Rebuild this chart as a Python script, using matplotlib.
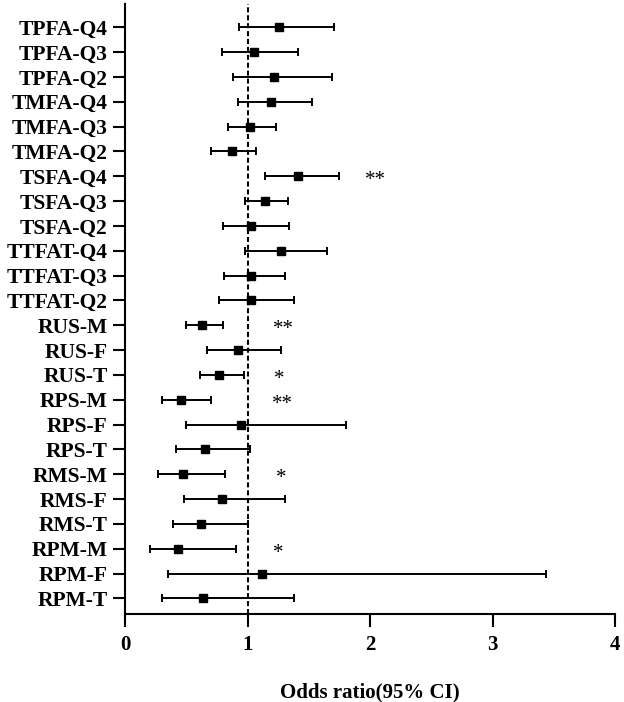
import matplotlib
matplotlib.use("Agg")
import matplotlib.pyplot as plt
import numpy as np

labels = ["TPFA-Q4", "TPFA-Q3", "TPFA-Q2", "TMFA-Q4", "TMFA-Q3", "TMFA-Q2",
          "TSFA-Q4", "TSFA-Q3", "TSFA-Q2", "TTFAT-Q4", "TTFAT-Q3", "TTFAT-Q2",
          "RUS-M", "RUS-F", "RUS-T", "RPS-M", "RPS-F", "RPS-T",
          "RMS-M", "RMS-F", "RMS-T", "RPM-M", "RPM-F", "RPM-T"]
odds = [1.26, 1.05, 1.22, 1.19, 1.02, 0.87,
        1.41, 1.14, 1.03, 1.27, 1.03, 1.03,
        0.63, 0.92, 0.77, 0.46, 0.95, 0.65,
        0.47, 0.79, 0.62, 0.43, 1.12, 0.64]
lower = [0.93, 0.79, 0.88, 0.92, 0.84, 0.70,
         1.14, 0.98, 0.80, 0.98, 0.81, 0.77,
         0.50, 0.67, 0.61, 0.30, 0.50, 0.42,
         0.27, 0.48, 0.39, 0.20, 0.35, 0.30]
upper = [1.71, 1.41, 1.69, 1.53, 1.23, 1.07,
         1.75, 1.33, 1.34, 1.65, 1.31, 1.38,
         0.80, 1.27, 0.97, 0.70, 1.80, 1.02,
         0.82, 1.31, 1.00, 0.91, 3.44, 1.38]
signif = {"TSFA-Q4": ("**", 1.96), "RUS-M": ("**", 1.21), "RUS-T": ("*", 1.22),
          "RPS-M": ("**", 1.20), "RMS-M": ("*", 1.23), "RPM-M": ("*", 1.21)}
xticks = [0, 1, 2, 3, 4]
xlabel = "Odds ratio(95% CI)"

plt.rcParams['font.family'] = ['Liberation Serif', 'DejaVu Serif']

fig = plt.figure(figsize=(6.24, 7.02), dpi=100)
ax = fig.add_axes([125/624, 1-614/702, 490/624, 610/702])

n = len(labels)
y = np.arange(n)[::-1]
o = np.array(odds); lo = np.array(lower); up = np.array(upper)
ax.errorbar(o, y, xerr=[o - lo, up - o], fmt='s', color='black', ecolor='black',
            markersize=6, elinewidth=1.4, capsize=2.7, capthick=1.4)
ax.axvline(1, color='black', linestyle=(0, (2.4, 1.4)), linewidth=1.5, zorder=0)

for lab, yy in zip(labels, y):
    if lab in signif:
        s, xp = signif[lab]
        ax.text(xp, yy - 0.18, s, ha='left', va='center', fontsize=15)

ax.set_xlim(0, 4)
ax.set_ylim(-0.63, n - 1 + 0.94)
ax.set_xticks(xticks)
ax.set_xticklabels([str(t) for t in xticks], fontsize=15, fontweight='bold')
ax.set_yticks(y)
ax.set_yticklabels(labels, fontsize=15.5, fontweight='bold')
ax.tick_params(axis='both', direction='out', length=9, width=1.5, color='black')
ax.tick_params(axis='y', pad=3.5)
ax.tick_params(axis='x', pad=6)
for side in ['top', 'right']:
    ax.spines[side].set_visible(False)
for side in ['left', 'bottom']:
    ax.spines[side].set_linewidth(1.5)
ax.set_xlabel(xlabel, fontsize=15, fontweight='bold', labelpad=20)

fig.savefig("out.png", dpi=100)
